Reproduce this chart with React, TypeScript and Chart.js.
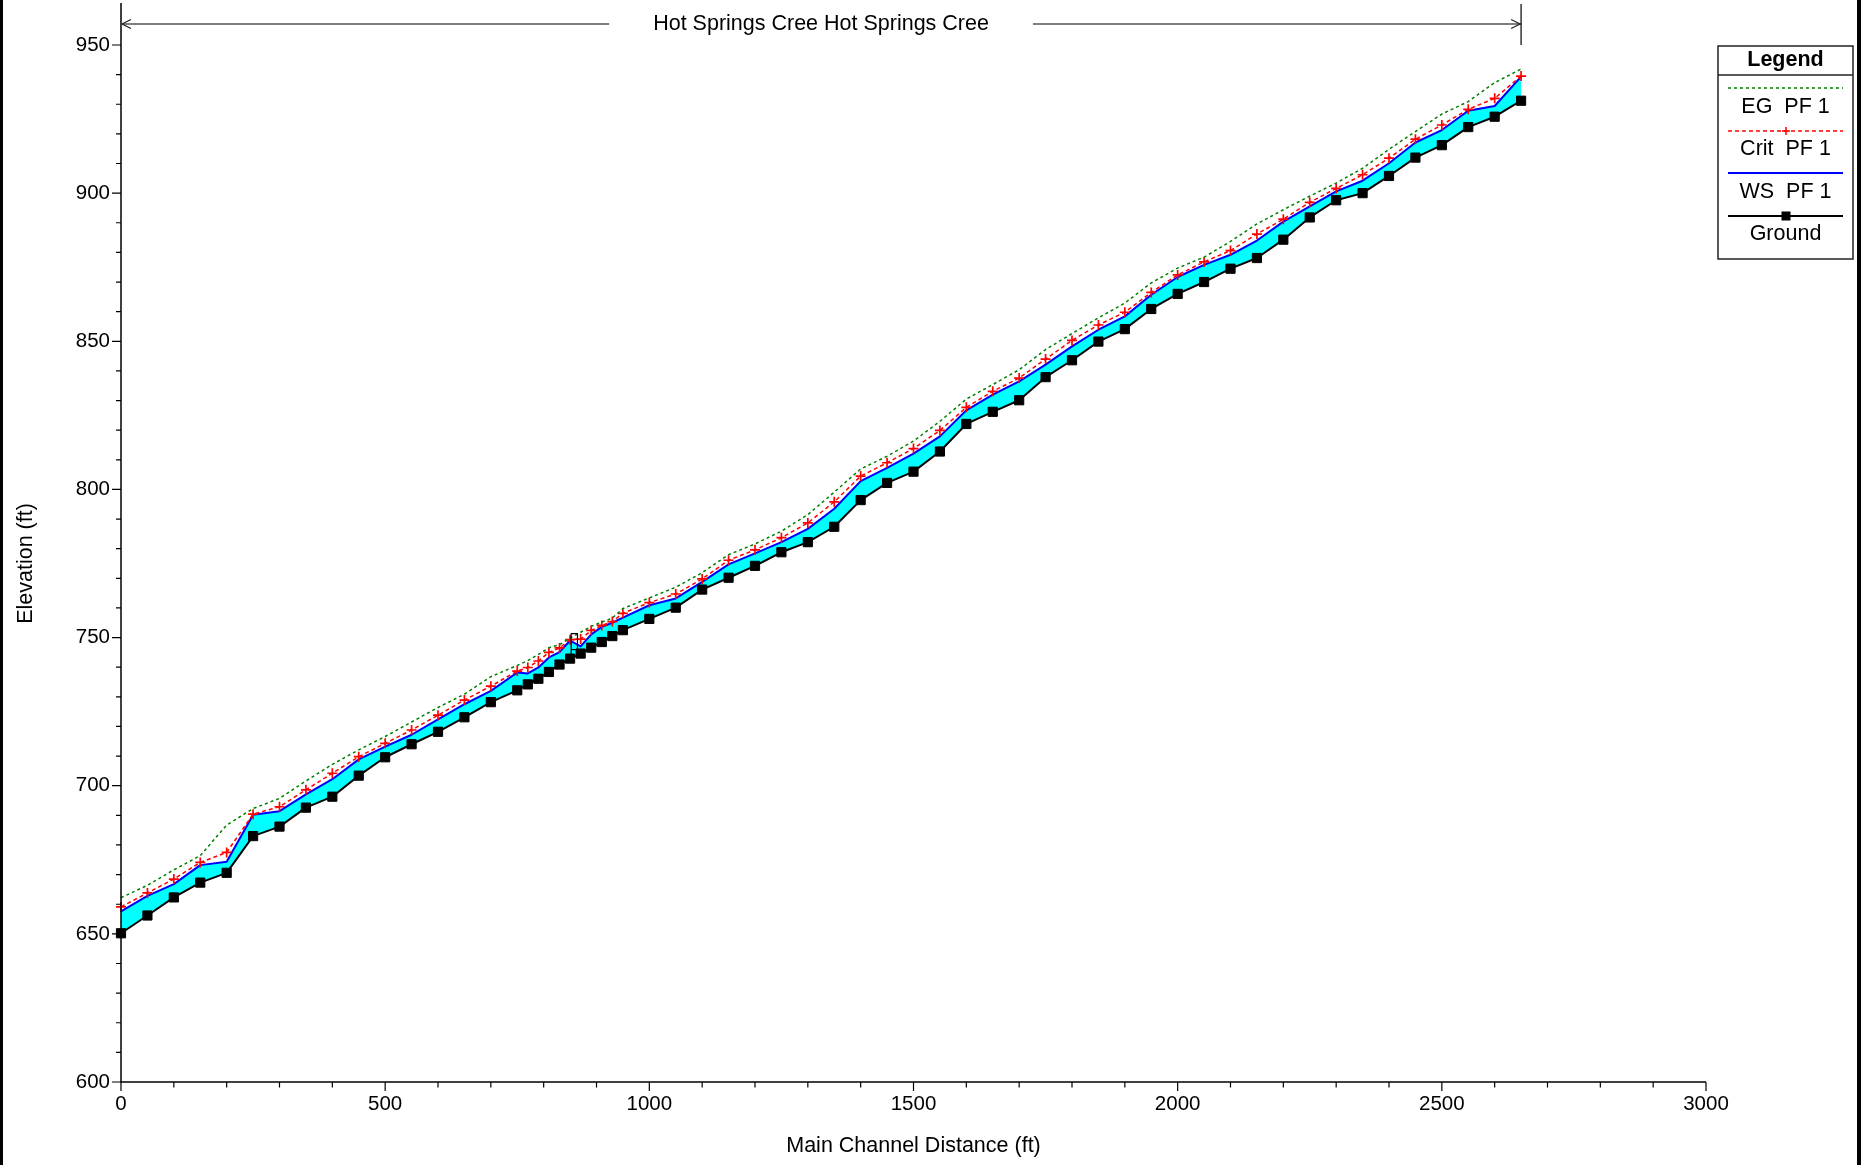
import React, { useEffect, useRef } from "react";
import { Chart, registerables } from "chart.js";

Chart.register(...registerables);

// ---------- data ----------
const stations = [
  0, 50, 100, 150, 200, 250, 300, 350, 400, 450, 500, 550, 600, 650, 700, 750,
  770, 790, 810, 830, 850, 870, 890, 910, 930, 950, 1000, 1050, 1100, 1150,
  1200, 1250, 1300, 1350, 1400, 1450, 1500, 1550, 1600, 1650, 1700, 1750,
  1800, 1850, 1900, 1950, 2000, 2050, 2100, 2150, 2200, 2250, 2300, 2350,
  2400, 2450, 2500, 2550, 2600, 2650,
];

const egPF1 = [
  662.2, 666.4, 671.6, 676.4, 686.7, 692.3, 695.7, 701.6, 707.2, 712.1, 716.6,
  721.5, 726.4, 730.9, 736.8, 740.6, 742.2, 744.3, 746.6, 747.6, 749.8, 751.8,
  753.8, 755.2, 756.6, 759.8, 763.4, 767.0, 771.9, 778.0, 781.6, 785.9, 791.5,
  799.1, 806.9, 811.2, 816.3, 823.0, 830.5, 835.4, 840.4, 847.2, 852.6, 857.9,
  862.9, 869.7, 874.7, 878.4, 883.7, 889.6, 894.4, 899.0, 903.4, 908.4, 914.8,
  920.8, 926.7, 930.9, 937.3, 941.9,
];

const critPF1 = [
  659.1, 663.8, 668.5, 674.1, 677.5, 690.4, 692.9, 698.6, 704.2, 709.8, 714.3,
  718.8, 723.8, 728.9, 733.6, 738.7, 739.9, 742.1, 745.0, 746.5, 749.3, 749.5,
  752.4, 754.1, 755.4, 758.2, 761.8, 764.7, 769.8, 776.1, 779.6, 783.7, 788.7,
  795.8, 804.5, 809.0, 813.8, 819.9, 827.7, 833.1, 837.6, 844.0, 850.3, 855.5,
  859.8, 866.5, 872.4, 876.8, 880.6, 886.2, 891.2, 896.9, 901.6, 906.2, 911.8,
  918.2, 923.0, 928.3, 932.0, 939.5,
];

const wsPF1 = [
  657.6, 662.8, 666.8, 673.2, 674.3, 690.2, 691.4, 697.1, 702.2, 708.9, 713.2,
  717.2, 722.4, 727.5, 732.0, 738.2, 737.9, 739.9, 743.3, 745.1, 749.0, 747.0,
  751.1, 753.6, 755.0, 756.7, 760.9, 763.2, 768.8, 774.7, 778.4, 782.2, 786.7,
  793.5, 802.8, 807.3, 812.1, 817.9, 826.7, 832.0, 836.5, 842.1, 848.3, 853.9,
  858.4, 865.7, 871.7, 875.8, 879.2, 884.0, 890.4, 895.5, 900.6, 904.2, 910.1,
  917.1, 921.3, 927.8, 929.4, 939.3,
];

const ground = [
  650.2, 656.2, 662.3, 667.3, 670.6, 683.0, 686.2, 692.6, 696.3, 703.4, 709.6,
  714.0, 718.2, 723.1, 728.2, 732.2, 734.2, 736.1, 738.4, 740.9, 742.9, 744.6,
  746.6, 748.5, 750.5, 752.5, 756.3, 760.1, 766.2, 770.2, 774.2, 778.8, 782.2,
  787.4, 796.4, 802.2, 806.0, 812.8, 822.1, 826.2, 830.1, 837.9, 843.6, 849.9,
  854.1, 860.9, 866.0, 870.0, 874.5, 878.1, 884.3, 891.8, 897.6, 900.0, 905.8,
  912.0, 916.2, 922.3, 925.8, 931.2,
];

// inline structure outline
const structureX = [852, 852, 864, 864, 852];
const structureY = [742.9, 751.3, 751.3, 745.9, 745.9];

const xMin = 0;
const xMax = 3000;
const xMinorStep = 100;
const xMajorStep = 500;
const yMin = 600;
const yMax = 950;
const yMinorStep = 10;
const yMajorStep = 50;

const reachLabel = "Hot Springs Cree Hot Springs Cree";
const reachStart = 0;
const reachEnd = 2650;

const xTitle = "Main Channel Distance (ft)";
const yTitle = "Elevation (ft)";
const legendTitle = "Legend";
const legendLabels = ["EG  PF 1", "Crit  PF 1", "WS  PF 1", "Ground"];

const FONT = "Arial, 'Liberation Sans', sans-serif";
const TEXT_SIZE = 21.5;

const toXY = (xs: number[], ys: number[]) => xs.map((x, i) => ({ x, y: ys[i] }));

const range = (a: number, b: number, s: number) => {
  const out: number[] = [];
  for (let v = a; v <= b + 1e-9; v += s) out.push(v);
  return out;
};

const decorPlugin = {
  id: "decor",
  afterDraw(chart: any) {
    const ctx: CanvasRenderingContext2D = chart.ctx;
    const { left, right, bottom } = chart.chartArea;
    const xs = chart.scales.x;
    const ys = chart.scales.y;
    ctx.save();

    // axes lines
    ctx.strokeStyle = "#000";
    ctx.lineWidth = 1.5;
    ctx.beginPath();
    ctx.moveTo(left, 3);
    ctx.lineTo(left, bottom);
    ctx.lineTo(right, bottom);
    ctx.stroke();

    // tick marks
    ctx.lineWidth = 1.2;
    ctx.beginPath();
    ys.ticks.forEach((t: any) => {
      const py = ys.getPixelForValue(t.value);
      const len = t.value % yMajorStep === 0 ? 9 : 5;
      ctx.moveTo(left - len, py);
      ctx.lineTo(left, py);
    });
    xs.ticks.forEach((t: any) => {
      const px = xs.getPixelForValue(t.value);
      const len = t.value % xMajorStep === 0 ? 9 : 5.5;
      ctx.moveTo(px, bottom);
      ctx.lineTo(px, bottom + len);
    });
    ctx.stroke();

    // reach annotation
    const x0 = xs.getPixelForValue(reachStart);
    const x1 = xs.getPixelForValue(reachEnd);
    const ay = 24;
    ctx.font = `${TEXT_SIZE}px ${FONT}`;
    const tw = ctx.measureText(reachLabel).width;
    const cx = (x0 + x1) / 2;
    const gap = 44;
    ctx.strokeStyle = "#555";
    ctx.lineWidth = 1.5;
    ctx.beginPath();
    ctx.moveTo(x0, ay);
    ctx.lineTo(cx - tw / 2 - gap, ay);
    ctx.moveTo(cx + tw / 2 + gap, ay);
    ctx.lineTo(x1, ay);
    ctx.stroke();
    ctx.strokeStyle = "#222";
    ctx.lineWidth = 1.2;
    ctx.beginPath();
    ctx.moveTo(x0 + 10, ay - 4.5);
    ctx.lineTo(x0 + 1, ay);
    ctx.lineTo(x0 + 10, ay + 4.5);
    ctx.moveTo(x1 - 10, ay - 4.5);
    ctx.lineTo(x1 - 1, ay);
    ctx.lineTo(x1 - 10, ay + 4.5);
    ctx.stroke();
    ctx.strokeStyle = "#000";
    ctx.lineWidth = 1.2;
    ctx.beginPath();
    ctx.moveTo(x1, 4);
    ctx.lineTo(x1, ys.getPixelForValue(yMax));
    ctx.stroke();
    ctx.fillStyle = "#000";
    ctx.textAlign = "center";
    ctx.textBaseline = "middle";
    ctx.fillText(reachLabel, cx, ay);

    // legend
    const lx0 = 1718;
    const lx1 = 1853;
    const ly0 = 46;
    const ly1 = 259;
    const lcx = (lx0 + lx1) / 2;
    ctx.strokeStyle = "#222";
    ctx.lineWidth = 1.5;
    ctx.strokeRect(lx0, ly0, lx1 - lx0, ly1 - ly0);
    ctx.beginPath();
    ctx.moveTo(lx0, 75);
    ctx.lineTo(lx1, 75);
    ctx.stroke();
    ctx.font = `bold ${TEXT_SIZE}px ${FONT}`;
    ctx.fillStyle = "#000";
    ctx.fillText(legendTitle, lcx, 60);
    ctx.font = `${TEXT_SIZE}px ${FONT}`;
    const lineYs = [88, 131, 173, 216];
    const textYs = [107, 149, 192, 234];
    const sx0 = 1728;
    const sx1 = 1843;
    const msx = 1786;
    chart.data.datasets.slice(0, 4).forEach((ds: any, i: number) => {
      const y = lineYs[i];
      ctx.save();
      ctx.strokeStyle = ds.borderColor;
      ctx.lineWidth = ds.borderWidth;
      ctx.setLineDash(ds.borderDash || []);
      ctx.beginPath();
      ctx.moveTo(sx0, y);
      ctx.lineTo(sx1, y);
      ctx.stroke();
      ctx.setLineDash([]);
      if (i === 1) {
        ctx.strokeStyle = "#ff0000";
        ctx.lineWidth = 1.5;
        ctx.beginPath();
        ctx.moveTo(msx - 4, y);
        ctx.lineTo(msx + 4, y);
        ctx.moveTo(msx, y - 4);
        ctx.lineTo(msx, y + 4);
        ctx.stroke();
      }
      if (i === 3) {
        ctx.fillStyle = "#000";
        ctx.fillRect(msx - 4.5, y - 4.5, 9, 9);
      }
      ctx.restore();
      ctx.fillStyle = "#000";
      ctx.fillText(legendLabels[i], lcx, textYs[i]);
    });

    // page frame
    ctx.fillStyle = "#000";
    ctx.fillRect(0, 0, 3, chart.height);
    ctx.fillRect(1857, 0, 4, chart.height);

    ctx.restore();
  },
};

export default function App() {
  const canvasRef = useRef<HTMLCanvasElement | null>(null);

  useEffect(() => {
    if (!canvasRef.current) return;
    Chart.defaults.font.family = FONT;
    const chart = new Chart(canvasRef.current, {
      type: "line",
      data: {
        datasets: [
          {
            label: legendLabels[0],
            data: toXY(stations, egPF1),
            borderColor: "#008000",
            borderWidth: 1.5,
            borderDash: [3, 3],
            pointRadius: 0,
            fill: false,
            tension: 0,
            order: 1,
          },
          {
            label: legendLabels[1],
            data: toXY(stations, critPF1),
            borderColor: "#ff0000",
            borderWidth: 1.5,
            borderDash: [4, 3],
            pointStyle: "cross",
            pointRadius: 5,
            pointBorderWidth: 1.7,
            pointBorderColor: "#ff0000",
            fill: false,
            tension: 0,
            order: 1,
          },
          {
            label: legendLabels[2],
            data: toXY(stations, wsPF1),
            borderColor: "#0000ff",
            borderWidth: 2,
            pointRadius: 0,
            backgroundColor: "#00ffff",
            fill: 3,
            tension: 0,
            order: 2,
          },
          {
            label: legendLabels[3],
            data: toXY(stations, ground),
            borderColor: "#000000",
            borderWidth: 2,
            pointStyle: "rect",
            pointRadius: 6.5,
            pointBorderWidth: 1,
            pointBackgroundColor: "#000",
            pointBorderColor: "#000",
            fill: false,
            tension: 0,
            order: 0,
          },
          {
            label: "structure",
            data: toXY(structureX, structureY),
            borderColor: "#000000",
            borderWidth: 1.2,
            pointRadius: 0,
            fill: false,
            tension: 0,
            order: 0,
          },
        ],
      },
      options: {
        animation: false,
        responsive: false,
        layout: { padding: { left: 0, right: 159, top: 45, bottom: 0 } },
        plugins: {
          legend: { display: false },
          tooltip: { enabled: false },
        },
        elements: { line: { borderJoinStyle: "round" } },
        datasets: { line: { clip: false } } as any,
        scales: {
          x: {
            type: "linear",
            min: xMin,
            max: xMax,
            grid: { display: false, drawTicks: false },
            border: { display: false },
            afterBuildTicks: (s: any) => {
              s.ticks = range(xMin, xMax, xMinorStep).map((v) => ({ value: v }));
            },
            afterFit: (s: any) => {
              s.height = 83;
            },
            ticks: {
              autoSkip: false,
              maxRotation: 0,
              padding: 10,
              color: "#000",
              font: { size: 20.5 },
              callback: (v: any) => (Number(v) % xMajorStep === 0 ? String(v) : ""),
            },
            title: {
              display: true,
              text: xTitle,
              color: "#000",
              font: { size: TEXT_SIZE },
              padding: { top: 0, bottom: 6 },
            },
          },
          y: {
            type: "linear",
            min: yMin,
            max: yMax,
            grid: { display: false, drawTicks: false },
            border: { display: false },
            afterBuildTicks: (s: any) => {
              s.ticks = range(yMin, yMax, yMinorStep).map((v) => ({ value: v }));
            },
            afterFit: (s: any) => {
              s.width = 121;
            },
            ticks: {
              autoSkip: false,
              padding: 11,
              color: "#000",
              font: { size: 20.5 },
              callback: (v: any) => (Number(v) % yMajorStep === 0 ? String(v) : ""),
            },
            title: {
              display: true,
              text: yTitle,
              color: "#000",
              font: { size: TEXT_SIZE },
              padding: { top: 13, bottom: 0 },
            },
          },
        },
      },
      plugins: [decorPlugin],
    });
    return () => chart.destroy();
  }, []);

  return (
    <div style={{ position: "absolute", left: 0, top: 0, width: 1865, height: 1165, background: "#fff" }}>
      <canvas ref={canvasRef} width={1865} height={1165} style={{ display: "block" }} />
    </div>
  );
}
